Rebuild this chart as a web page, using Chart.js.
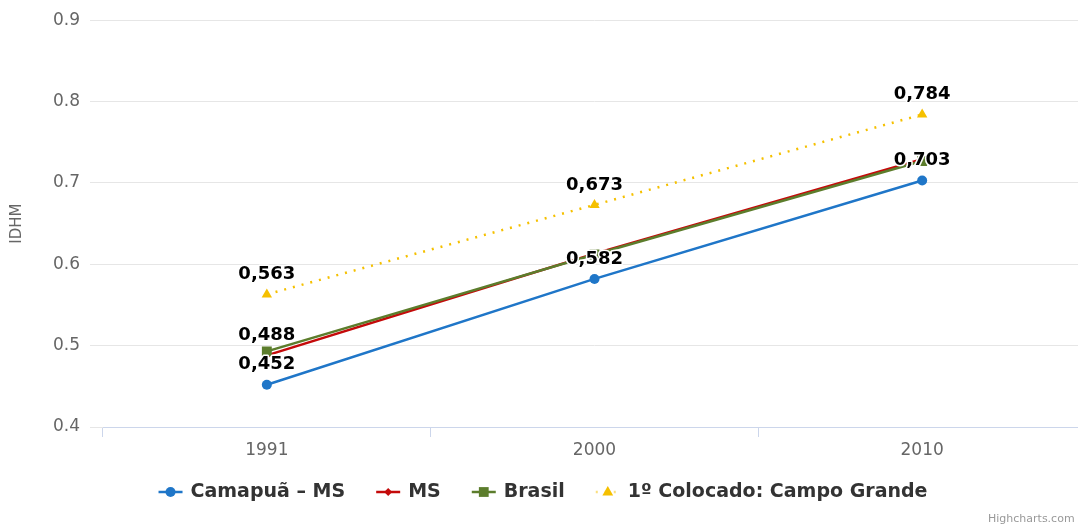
<!DOCTYPE html>
<html>
<head>
<meta charset="utf-8">
<script src="https://cdn.jsdelivr.net/npm/chart.js@4.4.0/dist/chart.umd.min.js"></script>
<style>
    html, body { margin: 0; padding: 0; background: #fff; overflow: hidden; }
    #wrap { width: 1093px; height: 525px; }
</style>
</head>
<body>
<div id="wrap"><canvas id="idhmChart" width="1093" height="525"></canvas></div>
<script>
const years = ['1991', '2000', '2010'];
const camapua = [0.452, 0.582, 0.703];
const ms = [0.488, 0.613, 0.729];
const brasil = [0.493, 0.612, 0.727];
const campoGrande = [0.563, 0.673, 0.784];
const seriesNames = ['Camapuã – MS', 'MS', 'Brasil', '1º Colocado: Campo Grande'];
const yTicks = [0.4, 0.5, 0.6, 0.7, 0.8, 0.9];
// which points get a value label (others are hidden like the overlapping ones)
const labelPoints = [[0, 1, 2], [0], [], [0, 1, 2]];

const fmt = (v) => v.toFixed(3).replace('.', ',');

function drawMarker(ctx, style, x, y, r, color) {
    ctx.save();
    ctx.fillStyle = color;
    ctx.beginPath();
    if (style === 'circle') {
        ctx.arc(x, y, r, 0, Math.PI * 2);
    } else if (style === 'rect') {
        ctx.rect(x - r * 0.7, y - r * 0.7, r * 1.4, r * 1.4);
    } else if (style === 'rectRot') {
        ctx.moveTo(x, y - r); ctx.lineTo(x + r, y); ctx.lineTo(x, y + r); ctx.lineTo(x - r, y);
    } else if (style === 'triangle') {
        ctx.moveTo(x, y - r); ctx.lineTo(x + r * 0.9, y + r * 0.6); ctx.lineTo(x - r * 0.9, y + r * 0.6);
    }
    ctx.closePath();
    ctx.fill();
    ctx.restore();
}

const dataLabels = {
    id: 'dataLabels',
    afterDatasetsDraw(chart) {
        const ctx = chart.ctx;
        ctx.save();
        ctx.font = 'bold 18px "DejaVu Sans"';
        ctx.textAlign = 'center';
        ctx.textBaseline = 'middle';
        ctx.lineJoin = 'round';
        chart.data.datasets.forEach((ds, i) => {
            const meta = chart.getDatasetMeta(i);
            labelPoints[i].forEach(j => {
                const p = meta.data[j];
                const txt = fmt(ds.data[j]);
                ctx.lineWidth = 3;
                ctx.strokeStyle = '#fff';
                ctx.strokeText(txt, p.x, p.y - 20);
                ctx.fillStyle = '#000';
                ctx.fillText(txt, p.x, p.y - 20);
            });
        });
        ctx.restore();
    }
};

const customLegend = {
    id: 'customLegend',
    afterDraw(chart) {
        const ctx = chart.ctx;
        const y = 492;
        const symW = 24, gap = 8, spacing = 31;
        ctx.save();
        ctx.font = 'bold 19px "DejaVu Sans"';
        ctx.textBaseline = 'middle';
        const items = chart.data.datasets.map(ds => ({ ds, w: symW + gap + ctx.measureText(ds.label).width }));
        const total = items.reduce((s, it) => s + it.w, 0) + spacing * (items.length - 1);
        let x = 543 - total / 2;
        items.forEach(it => {
            const ds = it.ds;
            ctx.save();
            ctx.strokeStyle = ds.borderColor;
            ctx.lineWidth = 2.5;
            if (ds.borderDash) {
                ctx.setLineDash(ds.borderDash);
                ctx.globalAlpha = 0.5;
            }
            ctx.beginPath();
            ctx.moveTo(x, y); ctx.lineTo(x + symW, y);
            ctx.stroke();
            ctx.restore();
            drawMarker(ctx, ds.pointStyle, x + symW / 2, y, ds.pointRadius, ds.pointBackgroundColor);
            ctx.fillStyle = '#333';
            ctx.fillText(ds.label, x + symW + gap, y);
            x += it.w + spacing;
        });
        // credit
        ctx.font = '11px "DejaVu Sans"';
        ctx.fillStyle = '#999';
        ctx.textBaseline = 'alphabetic';
        ctx.fillText('Highcharts.com', 988, 522);
        ctx.restore();
    }
};

const ctx = document.getElementById('idhmChart').getContext('2d');
new Chart(ctx, {
    type: 'line',
    data: {
        labels: years,
        datasets: [{
            label: seriesNames[0],
            data: camapua,
            borderColor: '#1f76c8',
            pointBackgroundColor: '#1f76c8',
            pointBorderWidth: 0,
            pointStyle: 'circle',
            pointRadius: 5,
            borderWidth: 2.5,
            order: 4
        }, {
            label: seriesNames[1],
            data: ms,
            borderColor: '#c40a0a',
            pointBackgroundColor: '#c40a0a',
            pointBorderWidth: 0,
            pointStyle: 'rectRot',
            pointRadius: 4,
            borderWidth: 2.5,
            order: 3
        }, {
            label: seriesNames[2],
            data: brasil,
            borderColor: '#5c7d2c',
            pointBackgroundColor: '#5c7d2c',
            pointBorderWidth: 0,
            pointStyle: 'rect',
            pointRadius: 7,
            borderWidth: 2.5,
            order: 2
        }, {
            label: seriesNames[3],
            data: campoGrande,
            borderColor: '#f5c000',
            pointBackgroundColor: '#f5c000',
            pointBorderWidth: 0,
            pointStyle: 'triangle',
            pointRadius: 6,
            borderWidth: 2.5,
            borderDash: [2, 7],
            order: 1
        }]
    },
    options: {
        responsive: false,
        animation: false,
        layout: { padding: { top: 20, right: 4, bottom: 0, left: 0 } },
        plugins: {
            legend: { display: false },
            tooltip: { enabled: false }
        },
        scales: {
            x: {
                offset: true,
                afterFit: (scale) => { scale.height = 98; },
                grid: {
                    offset: true,
                    drawOnChartArea: false,
                    drawTicks: true,
                    tickLength: 10,
                    color: '#ccd6eb'
                },
                border: { color: '#ccd6eb', width: 1 },
                ticks: {
                    color: '#666',
                    padding: 3,
                    font: { family: '"DejaVu Sans"', size: 17 }
                }
            },
            y: {
                min: 0.4,
                max: 0.9,
                afterFit: (scale) => { scale.width = 103; },
                afterBuildTicks: (scale) => { scale.ticks = yTicks.map(v => ({ value: v })); },
                grid: {
                    color: '#e6e6e6',
                    tickLength: 13
                },
                border: { display: false },
                ticks: {
                    color: '#666',
                    padding: 10,
                    font: { family: '"DejaVu Sans"', size: 17 },
                    callback: (v) => v.toFixed(1)
                },
                title: {
                    display: true,
                    text: 'IDHM',
                    color: '#666',
                    padding: { top: 8, bottom: 0 },
                    font: { family: '"DejaVu Sans"', size: 15 }
                }
            }
        }
    },
    plugins: [dataLabels, customLegend]
});
</script>
</body>
</html>
